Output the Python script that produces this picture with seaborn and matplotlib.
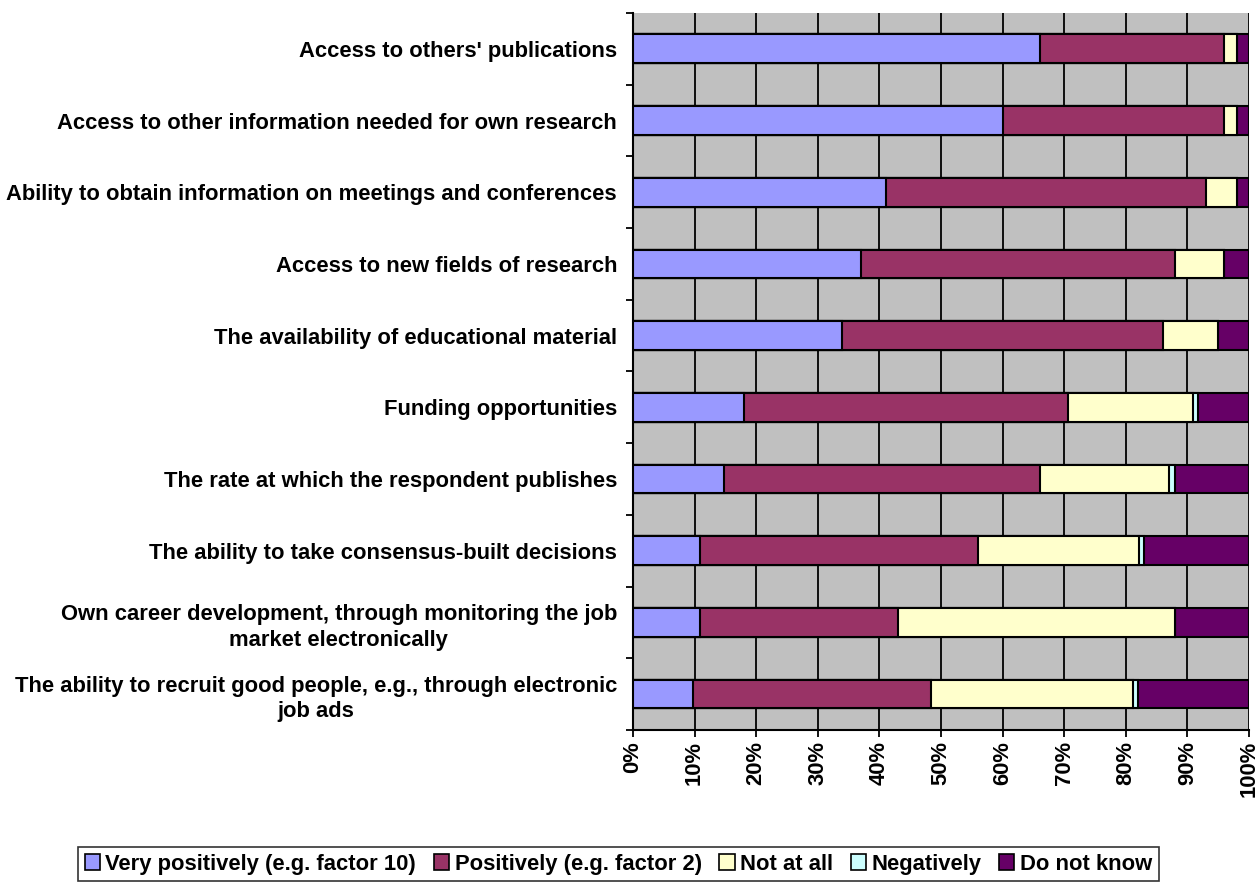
import numpy as np
import pandas as pd
import matplotlib
matplotlib.use("Agg")
import matplotlib.pyplot as plt
import seaborn as sns
from matplotlib.patches import Patch
from matplotlib.ticker import FixedLocator

# Dados (percentual por categoria)
categorias = [
    "Access to others' publications",
    "Access to other information needed for own research",
    "Ability to obtain information on meetings and conferences",
    "Access to new fields of research",
    "The availability of educational material",
    "Funding opportunities",
    "The rate at which the respondent publishes",
    "The ability to take consensus-built decisions",
    "Own career development, through monitoring the job\nmarket electronically",
    "The ability to recruit good people, e.g., through electronic\njob ads",
]
series = [
    "Very positively (e.g. factor 10)",
    "Positively (e.g. factor 2)",
    "Not at all",
    "Negatively",
    "Do not know",
]
muito_positivo = [66, 60, 41, 37, 34, 18, 14.8, 10.8, 10.9, 9.8]
positivo = [30, 36, 52, 51, 52, 52.7, 51.2, 45.2, 32.1, 38.6]
nada = [2, 2, 5, 8, 9, 20.2, 21, 26.2, 45, 32.8]
negativo = [0, 0, 0, 0, 0, 0.8, 1, 0.8, 0, 0.8]
nao_sabe = [2, 2, 2, 4, 5, 8.3, 12, 17, 12, 18]
cores = ["#9999FF", "#993366", "#FFFFCC", "#CCFFFF", "#660066"]

valores = np.array([muito_positivo, positivo, nada, negativo, nao_sabe])
acumulado = np.cumsum(valores, axis=0)

plt.rcParams["font.family"] = ["Liberation Sans", "DejaVu Sans"]
plt.rcParams["font.weight"] = "bold"
fs = 15.8

fig = plt.figure(figsize=(12.57, 8.89), dpi=100)
ax = fig.add_axes([0.5036, 0.1789, 0.49, 0.8065])
ax.set_facecolor("#C0C0C0")

# Barras empilhadas: desenha do total acumulado maior para o menor
for i in range(len(series) - 1, -1, -1):
    df = pd.DataFrame({"cat": categorias, "val": acumulado[i]})
    sns.barplot(data=df, x="val", y="cat", orient="h", color=cores[i],
                width=0.4, edgecolor="black", linewidth=1.5,
                saturation=1, ax=ax, zorder=3)

ax.set_xlim(0, 100)
ax.set_ylim(9.5, -0.5)
ax.set_xticks(range(0, 101, 10))
ax.set_xticklabels([f"{v}%" for v in range(0, 101, 10)], rotation=90,
                   fontsize=fs, fontweight="bold")
ax.grid(axis="x", color="black", linewidth=1.3, zorder=1)
ax.set_axisbelow(True)
ax.set_xlabel("")
ax.set_ylabel("")

ax.tick_params(axis="y", which="major", length=0, pad=11.5)
ax.yaxis.set_minor_locator(FixedLocator(np.arange(-0.5, 10, 1)))
ax.tick_params(axis="y", which="minor", length=5, width=1.3)
ax.tick_params(axis="x", which="major", length=5, width=1.3, pad=3)
for lab in ax.get_yticklabels():
    lab.set_fontsize(fs)
    lab.set_fontweight("bold")
    lab.set_multialignment("center")
    lab.set_linespacing(1.3)

for s in ["left", "bottom"]:
    ax.spines[s].set_color("black")
    ax.spines[s].set_linewidth(1.5)
ax.spines["top"].set_visible(False)
ax.spines["right"].set_visible(False)

handles = [Patch(facecolor=c, edgecolor="black", linewidth=1.2) for c in cores]
leg = fig.legend(handles, series, loc="center", bbox_to_anchor=(0.492, 0.028),
                 ncol=5, frameon=True, fancybox=False, handlelength=0.7,
                 handleheight=0.7, handletextpad=0.25, columnspacing=0.8,
                 borderpad=0.3, prop={"size": fs, "weight": "bold"})
leg.get_frame().set_edgecolor("black")
leg.get_frame().set_linewidth(1.2)

fig.savefig("out.png", dpi=100)
